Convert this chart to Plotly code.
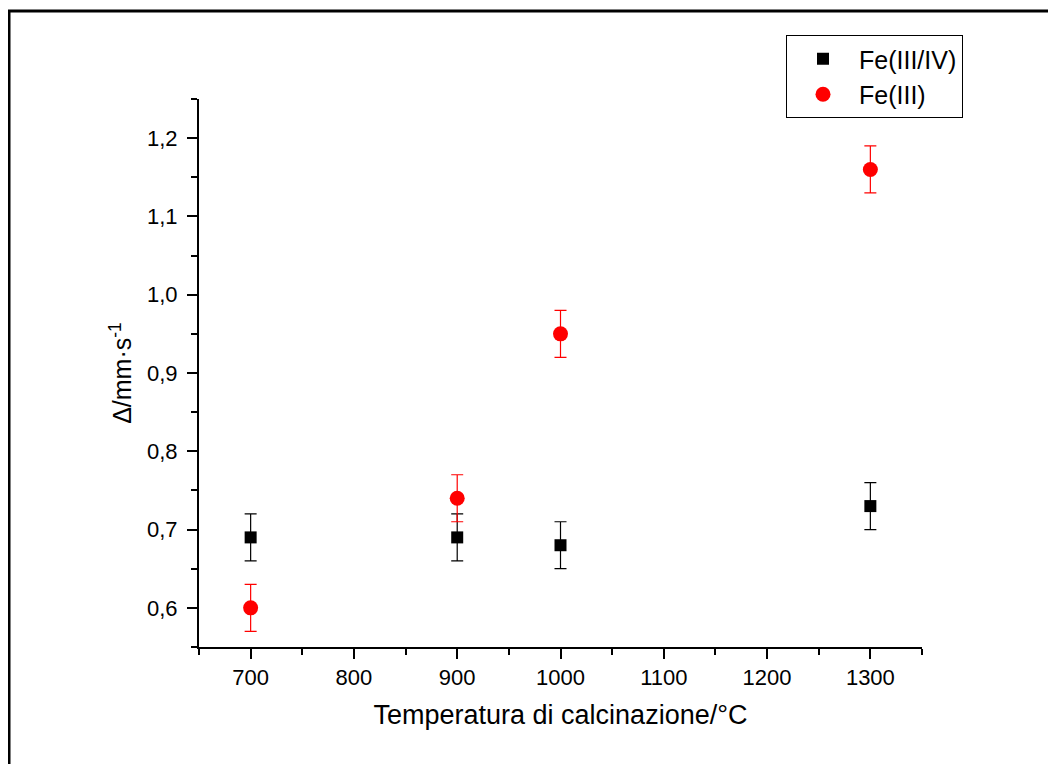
import plotly.graph_objects as go

temps = [700, 900, 1000, 1300]
fe34_vals = [0.69, 0.69, 0.68, 0.73]
fe34_err = [0.03, 0.03, 0.03, 0.03]
fe3_vals = [0.60, 0.74, 0.95, 1.16]
fe3_err = [0.03, 0.03, 0.03, 0.03]
names = ["Fe(III/IV)", "Fe(III)"]

FONT = "Liberation Sans, Arial, sans-serif"

fig = go.Figure()
fig.add_trace(go.Scatter(
    x=temps, y=fe34_vals, mode="markers", name=names[0],
    marker=dict(symbol="square", size=12, color="black"),
    error_y=dict(type="data", array=fe34_err, visible=True, color="black", thickness=1.2, width=6),
))
fig.add_trace(go.Scatter(
    x=temps, y=fe3_vals, mode="markers", name=names[1],
    marker=dict(symbol="circle", size=15, color="#ff0000"),
    error_y=dict(type="data", array=fe3_err, visible=True, color="#ff0000", thickness=1.2, width=6),
))

# page is rendered with an 8px body margin; work in page pixels and shift
OFF = 8
W, H = 1056 - OFF, 764 - OFF
L, R, T, B = 199 - OFF, 134, 99 - OFF, 117
pw, ph = W - L - R, H - T - B

def px(x):
    return (x - OFF - L) / pw

def py(y):
    return (H - B - (y - OFF)) / ph

fig.update_layout(
    width=W, height=H,
    margin=dict(l=L, r=R, t=T, b=B),
    paper_bgcolor="white", plot_bgcolor="white",
    font=dict(family=FONT, color="black", size=22),
    separators=", ",
    showlegend=True,
    legend=dict(
        x=px(786), y=py(35), xanchor="left", yanchor="top",
        bordercolor="black", borderwidth=1, bgcolor="white",
        font=dict(size=25, family=FONT), itemwidth=62,
        tracegroupgap=0,
    ),
    xaxis=dict(
        range=[650, 1350], dtick=100, tick0=0,
        showgrid=False, zeroline=False,
        showline=True, linecolor="black", linewidth=2,
        ticks="outside", ticklen=10, tickwidth=2, tickcolor="black",
        minor=dict(dtick=50, ticks="outside", ticklen=6, tickwidth=2, tickcolor="black", showgrid=False),
        tickfont=dict(size=22, family=FONT),
        title=dict(text="Temperatura di calcinazione/°C", font=dict(size=27, family=FONT), standoff=16),
    ),
    yaxis=dict(
        range=[0.55, 1.25], dtick=0.1, tick0=0, tickformat=".1f",
        showgrid=False, zeroline=False,
        showline=True, linecolor="black", linewidth=2,
        ticks="outside", ticklen=10, tickwidth=2, tickcolor="black",
        ticklabelstandoff=5,
        minor=dict(dtick=0.05, ticks="outside", ticklen=6, tickwidth=2, tickcolor="black", showgrid=False),
        tickfont=dict(size=22, family=FONT),
        title=dict(text="Δ/mm·s<sup>-1</sup>", font=dict(size=25, family=FONT), standoff=8),
    ),
    shapes=[
        dict(type="line", xref="paper", yref="paper", x0=px(8), x1=px(1070), y0=py(11), y1=py(11),
             line=dict(color="black", width=3)),
        dict(type="line", xref="paper", yref="paper", x0=px(9), x1=px(9), y0=py(11), y1=py(780),
             line=dict(color="black", width=3)),
    ],
)

fig.write_html("out.html")
